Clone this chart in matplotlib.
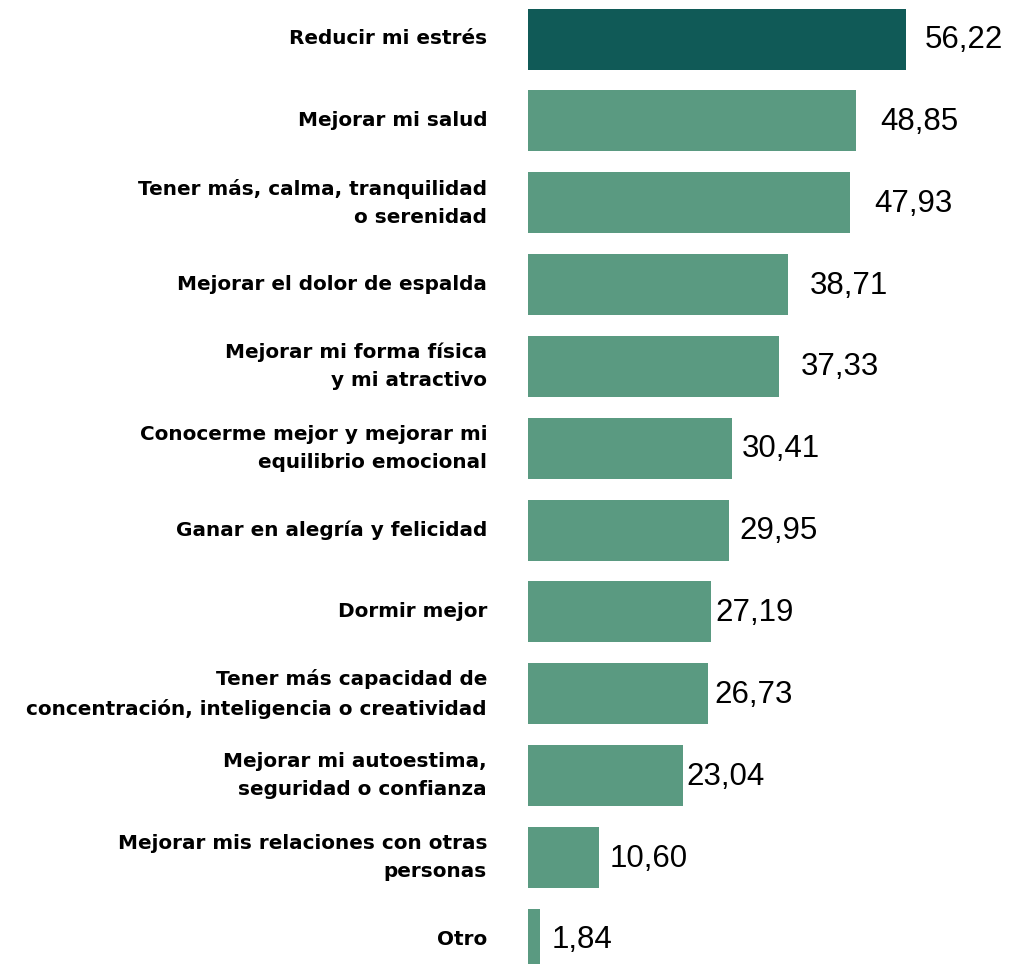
import matplotlib
matplotlib.use('Agg')
import numpy as np
from matplotlib import pyplot as plt
from matplotlib.transforms import offset_copy

# motivos para practicar (porcentaje de respuestas)
motivos = [
    "Reducir mi estrés",
    "Mejorar mi salud",
    "Tener más, calma, tranquilidad\no serenidad",
    "Mejorar el dolor de espalda",
    "Mejorar mi forma física\ny mi atractivo",
    "Conocerme mejor y mejorar mi\nequilibrio emocional",
    "Ganar en alegría y felicidad",
    "Dormir mejor",
    "Tener más capacidad de\nconcentración, inteligencia o creatividad",
    "Mejorar mi autoestima,\nseguridad o confianza",
    "Mejorar mis relaciones con otras\npersonas",
    "Otro",
]
porcentajes = [56.22, 48.85, 47.93, 38.71, 37.33, 30.41, 29.95, 27.19, 26.73, 23.04, 10.60, 1.84]

color_top = '#105a57'
color_rest = '#5a9a81'
# gap between bar end and its number, in pixels
label_pad = [19, 24, 24, 22, 22, 9, 10, 5, 7, 4, 10, 11]

W, H = 1011, 964
px_per_unit = 6.72
x0 = 528
pitch = 81.85
first_center = 39

fig = plt.figure(figsize=(W / 100, H / 100), dpi=100)
xmax = (W - x0) / px_per_unit
ax = fig.add_axes([x0 / W, 0, 1 - x0 / W, 1])
ax.set_xlim(0, xmax)
ax.set_ylim(-first_center / pitch + (H / pitch), -first_center / pitch)
ax.axis('off')

pos = np.arange(len(porcentajes))
colors = [color_top] + [color_rest] * (len(porcentajes) - 1)
bars = ax.barh(pos, porcentajes, height=61 / pitch, color=colors,
               edgecolor='none')

label_tr = offset_copy(ax.get_yaxis_transform(), fig=fig, x=-41, y=0, units='dots')
for y, txt in zip(pos, motivos):
    ax.text(0, y, txt, transform=label_tr, ha='right', va='center',
            multialignment='right', fontsize=14.4, fontweight='bold',
            family='DejaVu Sans', linespacing=1.6, color='#000000')

for y, v, pad in zip(pos, porcentajes, label_pad):
    tr = offset_copy(ax.transData, fig=fig, x=pad, y=-1, units='dots')
    ax.text(v, y, f"{v:.2f}".replace('.', ','), transform=tr, ha='left',
            va='center', fontsize=22.5, family='Liberation Sans', color='#000000')

plt.savefig('out.png', dpi=100)
plt.close(fig)
